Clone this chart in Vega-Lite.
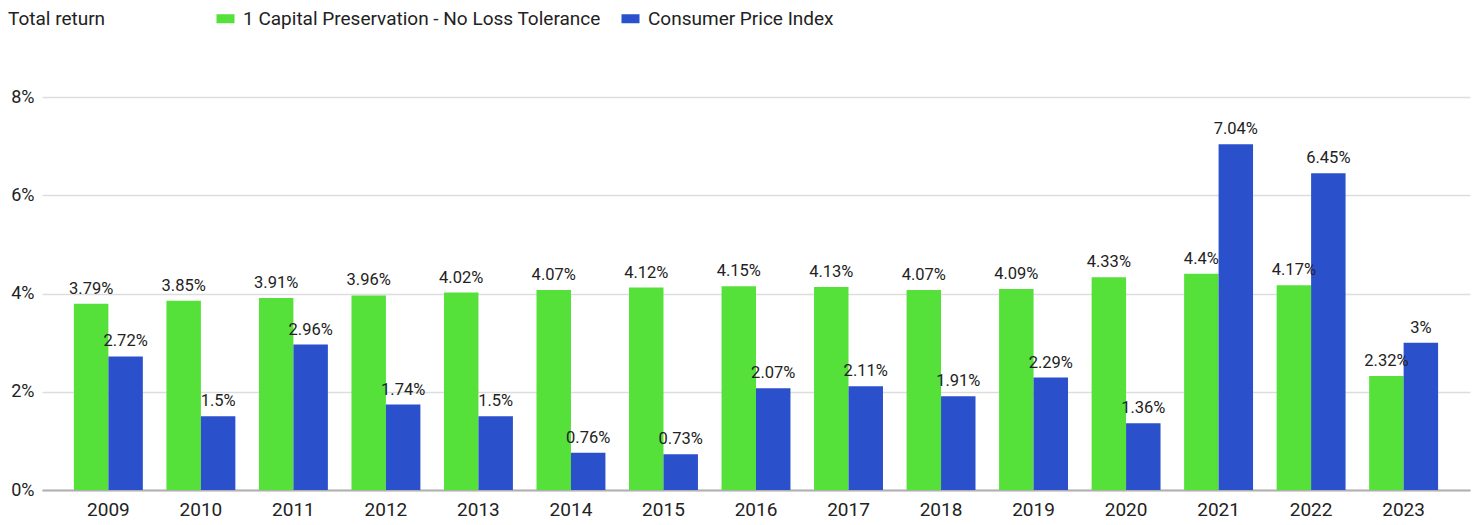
{
  "$schema": "https://vega.github.io/schema/vega-lite/v6.json",
  "width": 1428,
  "height": 393,
  "autosize": {"type": "none"},
  "padding": {"left": 42, "top": 97, "right": 6, "bottom": 35},
  "background": "white",
  "config": {
    "view": {"stroke": null},
    "font": "Roboto"
  },
  "data": {"values": [
    {"year": "2009", "series": "1 Capital Preservation - No Loss Tolerance", "value": 0.0379},
    {"year": "2010", "series": "1 Capital Preservation - No Loss Tolerance", "value": 0.0385},
    {"year": "2011", "series": "1 Capital Preservation - No Loss Tolerance", "value": 0.0391},
    {"year": "2012", "series": "1 Capital Preservation - No Loss Tolerance", "value": 0.0396},
    {"year": "2013", "series": "1 Capital Preservation - No Loss Tolerance", "value": 0.0402},
    {"year": "2014", "series": "1 Capital Preservation - No Loss Tolerance", "value": 0.0407},
    {"year": "2015", "series": "1 Capital Preservation - No Loss Tolerance", "value": 0.0412},
    {"year": "2016", "series": "1 Capital Preservation - No Loss Tolerance", "value": 0.0415},
    {"year": "2017", "series": "1 Capital Preservation - No Loss Tolerance", "value": 0.0413},
    {"year": "2018", "series": "1 Capital Preservation - No Loss Tolerance", "value": 0.0407},
    {"year": "2019", "series": "1 Capital Preservation - No Loss Tolerance", "value": 0.0409},
    {"year": "2020", "series": "1 Capital Preservation - No Loss Tolerance", "value": 0.0433},
    {"year": "2021", "series": "1 Capital Preservation - No Loss Tolerance", "value": 0.044},
    {"year": "2022", "series": "1 Capital Preservation - No Loss Tolerance", "value": 0.0417},
    {"year": "2023", "series": "1 Capital Preservation - No Loss Tolerance", "value": 0.0232},
    {"year": "2009", "series": "Consumer Price Index", "value": 0.0272},
    {"year": "2010", "series": "Consumer Price Index", "value": 0.015},
    {"year": "2011", "series": "Consumer Price Index", "value": 0.0296},
    {"year": "2012", "series": "Consumer Price Index", "value": 0.0174},
    {"year": "2013", "series": "Consumer Price Index", "value": 0.015},
    {"year": "2014", "series": "Consumer Price Index", "value": 0.0076},
    {"year": "2015", "series": "Consumer Price Index", "value": 0.0073},
    {"year": "2016", "series": "Consumer Price Index", "value": 0.0207},
    {"year": "2017", "series": "Consumer Price Index", "value": 0.0211},
    {"year": "2018", "series": "Consumer Price Index", "value": 0.0191},
    {"year": "2019", "series": "Consumer Price Index", "value": 0.0229},
    {"year": "2020", "series": "Consumer Price Index", "value": 0.0136},
    {"year": "2021", "series": "Consumer Price Index", "value": 0.0704},
    {"year": "2022", "series": "Consumer Price Index", "value": 0.0645},
    {"year": "2023", "series": "Consumer Price Index", "value": 0.03}
  ]},
  "encoding": {
    "x": {"field": "year", "type": "nominal", "scale": {"paddingInner": 0.255, "paddingOuter": 0.345},
      "axis": {"title": null, "labelAngle": 0, "labelFontSize": 19, "labelColor": "#222", "ticks": false, "labelPadding": 10, "domainColor": "#b0b0b0", "domainWidth": 2}},
    "xOffset": {"field": "series", "type": "nominal", "scale": {"domain": ["1 Capital Preservation - No Loss Tolerance", "Consumer Price Index"], "paddingInner": 0, "paddingOuter": 0}},
    "y": {"field": "value", "type": "quantitative", "scale": {"domain": [0, 0.08], "nice": false},
      "axis": {"title": null, "values": [0, 0.02, 0.04, 0.06, 0.08], "format": ".0%", "labelFontSize": 18, "labelColor": "#222", "ticks": false, "domain": false, "labelPadding": 8, "gridColor": "#dddddd", "gridWidth": 1.5}}
  },
  "layer": [
    {
      "mark": {"type": "bar"},
      "encoding": {
        "color": {"field": "series", "type": "nominal",
          "scale": {"domain": ["1 Capital Preservation - No Loss Tolerance", "Consumer Price Index"], "range": ["#55e03a", "#2b50cc"]},
          "legend": {"title": "Total return", "titleOrient": "left", "titleFontSize": 19, "titleFontWeight": "normal", "titleColor": "#222", "titlePadding": 110, "titleBaseline": "middle",
            "orient": "none", "direction": "horizontal", "legendX": -34, "legendY": -88,
            "symbolType": "M-1,-0.5H1V0.5H-1Z", "symbolSize": 324, "symbolStrokeWidth": 0, "labelFontSize": 19, "labelColor": "#222", "labelOffset": 8, "columnPadding": 20, "labelLimit": 500}}
      }
    },
    {
      "mark": {"type": "text", "baseline": "bottom", "dy": -7, "fontSize": 16.5, "color": "#222"},
      "encoding": {
        "text": {"field": "value", "type": "quantitative", "format": ".3~%"}
      }
    }
  ]
}
